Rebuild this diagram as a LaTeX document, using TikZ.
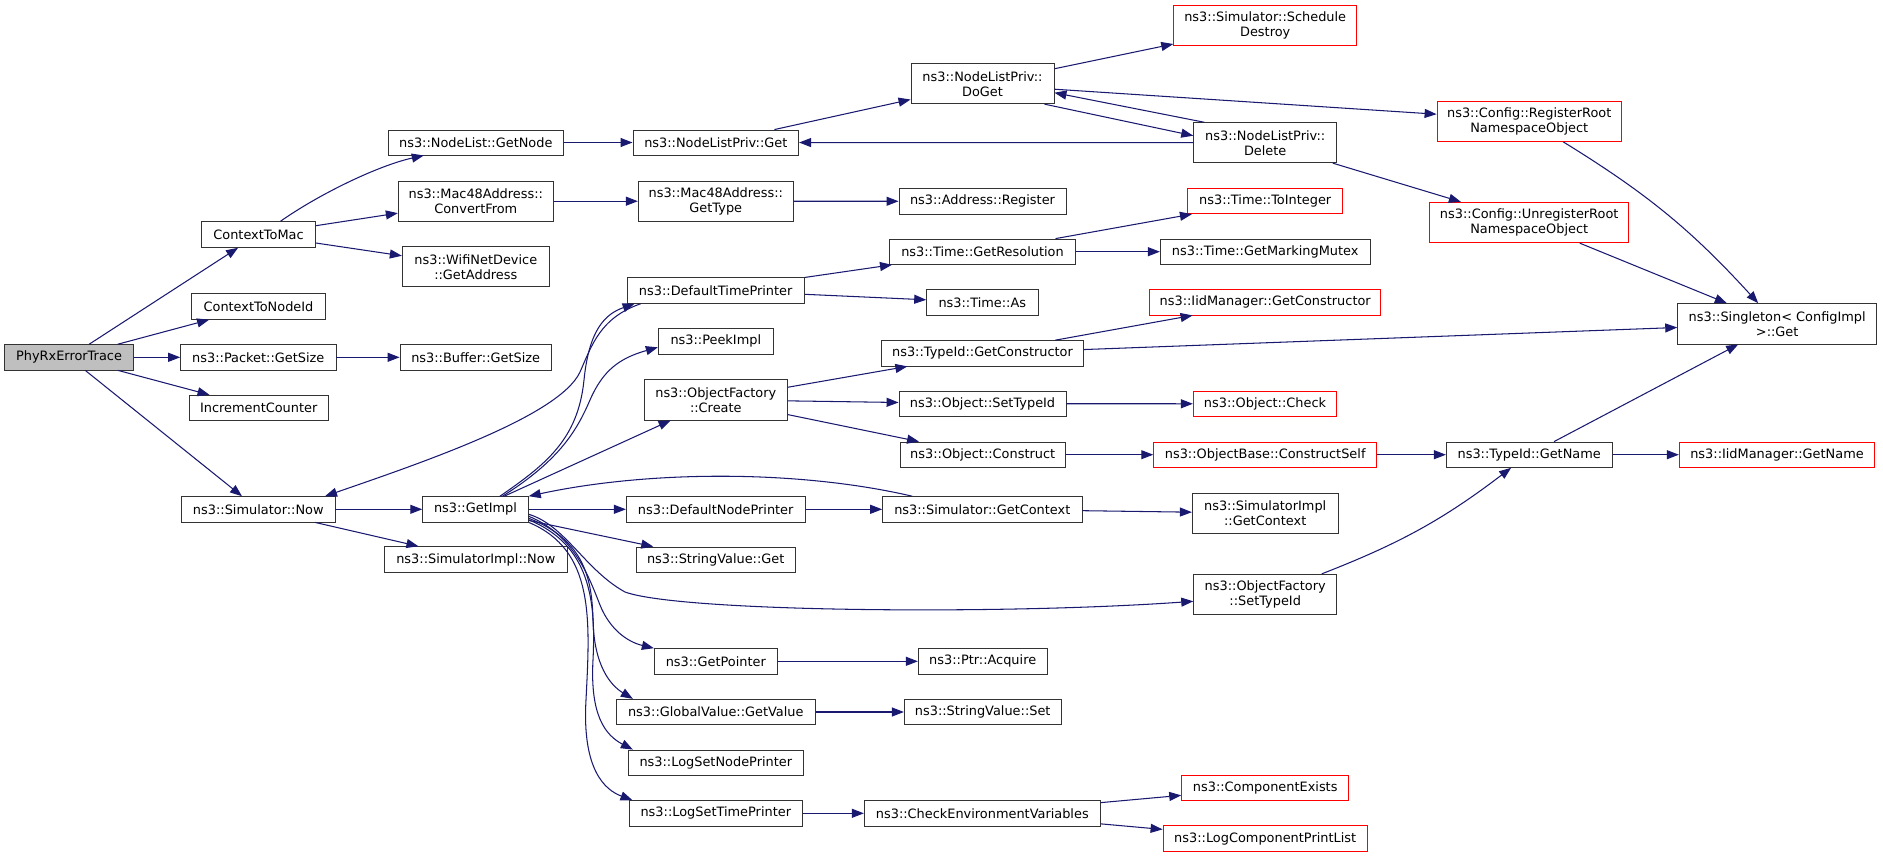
\documentclass[tikz,border=0pt]{standalone}
\usepackage{fontspec}
\setmainfont{DejaVu Sans}
\usetikzlibrary{arrows.meta,calc}
\definecolor{edgecol}{HTML}{191970}
\definecolor{phyfill}{HTML}{BFBFBF}
\definecolor{bordcol}{HTML}{333333}
\newcommand\dxfont{\fontsize{12.9}{15}\selectfont}
\tikzset{
  dbox/.style={draw=bordcol, line width=0.9pt, fill=white, inner sep=0pt, align=center, font=\dxfont},
  rbox/.style={dbox, draw=red},
  sz/.style 2 args={minimum width=#1pt, minimum height=#2pt},
  conn/.style={draw=edgecol, line width=1.05pt, -{Triangle[length=12pt,width=9pt]}},
}
\begin{document}
\begin{tikzpicture}[x=1pt,y=-1pt]
\path[use as bounding box] (0,0) rectangle (1883,857);
% column 1
\node[dbox, sz={128.6}{25.3}, fill=phyfill] (phy) at (69,357.3) {PhyRxErrorTrace};
% column 2
\node[dbox, sz={113.6}{25.6}] (ctm) at (258.5,234.5) {ContextToMac};
\node[dbox, sz={133.6}{25.6}] (ctn) at (258.5,306.5) {ContextToNodeId};
\node[dbox, sz={155.3}{25.3}] (pgs) at (258.3,357.3) {ns3::Packet::GetSize};
\node[dbox, sz={139.3}{25.4}] (inc) at (258.7,408) {IncrementCounter};
\node[dbox, sz={153.3}{25.3}] (snow) at (258.3,509.3) {ns3::Simulator::Now};
% column 3
\node[dbox, sz={175}{25}] (gnode) at (475.8,142.5) {ns3::NodeList::GetNode};
\node[dbox, sz={155}{39.7}] (cf) at (475.8,201.2) {ns3::Mac48Address::\\ConvertFrom};
\node[dbox, sz={147}{40}] (wifi) at (475.8,266.7) {ns3::WifiNetDevice\\::GetAddress};
\node[dbox, sz={151.3}{25.3}] (bgs) at (475.7,357.3) {ns3::Buffer::GetSize};
\node[dbox, sz={105.6}{25.3}] (gimpl) at (475.5,509.3) {ns3::GetImpl};
\node[dbox, sz={183}{25.6}] (simpnow) at (475.8,559.5) {ns3::SimulatorImpl::Now};
% column 4
\node[dbox, sz={165.7}{25}] (nlpget) at (715.8,142.5) {ns3::NodeListPriv::Get};
\node[dbox, sz={155}{39.7}] (gtype) at (715.8,201.2) {ns3::Mac48Address::\\GetType};
\node[dbox, sz={177.3}{26}] (dtp) at (715.7,290.3) {ns3::DefaultTimePrinter};
\node[dbox, sz={115}{25.3}] (peek) at (715.8,341.3) {ns3::PeekImpl};
\node[dbox, sz={143}{40.3}] (ofc) at (715.8,399.8) {ns3::ObjectFactory\\::Create};
\node[dbox, sz={178.7}{25.3}] (dnp) at (715.7,509.3) {ns3::DefaultNodePrinter};
\node[dbox, sz={158.7}{25.3}] (svget) at (715.7,559.7) {ns3::StringValue::Get};
\node[dbox, sz={123}{25.3}] (gptr) at (715.8,661.3) {ns3::GetPointer};
\node[dbox, sz={199}{25.4}] (gval) at (715.8,712) {ns3::GlobalValue::GetValue};
\node[dbox, sz={175}{25.3}] (lsnp) at (715.8,762.7) {ns3::LogSetNodePrinter};
\node[dbox, sz={173.7}{25.3}] (lstp) at (715.8,813.3) {ns3::LogSetTimePrinter};
% column 5
\node[dbox, sz={143}{40}] (doget) at (982.5,83.7) {ns3::NodeListPriv::\\DoGet};
\node[dbox, sz={167}{25.3}] (areg) at (982.5,201.3) {ns3::Address::Register};
\node[dbox, sz={185.6}{25.3}] (gres) at (982.5,251.7) {ns3::Time::GetResolution};
\node[dbox, sz={111.3}{25.3}] (tas) at (982.3,302.3) {ns3::Time::As};
\node[dbox, sz={201.6}{25.3}] (tgc) at (982.5,353.3) {ns3::TypeId::GetConstructor};
\node[dbox, sz={167}{25.3}] (ost) at (982.5,403.7) {ns3::Object::SetTypeId};
\node[dbox, sz={165.3}{25.3}] (oc) at (982.7,454.7) {ns3::Object::Construct};
\node[dbox, sz={199.3}{25.3}] (sgc) at (982.3,509.3) {ns3::Simulator::GetContext};
\node[dbox, sz={128.7}{25.3}] (pacq) at (982.7,661.3) {ns3::Ptr::Acquire};
\node[dbox, sz={156.7}{25.4}] (svset) at (982.7,712) {ns3::StringValue::Set};
\node[dbox, sz={236}{25.3}] (cev) at (982.3,813.3) {ns3::CheckEnvironmentVariables};
% column 6
\node[rbox, sz={183}{40}] (sd) at (1265.2,25) {ns3::Simulator::Schedule\\Destroy};
\node[dbox, sz={143}{40}] (del) at (1265.2,142.7) {ns3::NodeListPriv::\\Delete};
\node[rbox, sz={155}{25.4}] (toint) at (1265.2,201) {ns3::Time::ToInteger};
\node[dbox, sz={209.7}{25.3}] (gmm) at (1265.2,251.7) {ns3::Time::GetMarkingMutex};
\node[rbox, sz={231}{25.3}] (iidgc) at (1265.2,302.3) {ns3::IidManager::GetConstructor};
\node[rbox, sz={143.4}{25.7}] (ochk) at (1265,403.8) {ns3::Object::Check};
\node[rbox, sz={223}{25.3}] (ocs) at (1265.2,454.7) {ns3::ObjectBase::ConstructSelf};
\node[dbox, sz={145.7}{40.3}] (sigc) at (1265.2,513.2) {ns3::SimulatorImpl\\::GetContext};
\node[dbox, sz={143}{40}] (ofst) at (1265.2,594.3) {ns3::ObjectFactory\\::SetTypeId};
\node[rbox, sz={167}{25}] (cex) at (1265.2,787.8) {ns3::ComponentExists};
\node[rbox, sz={204.3}{25.6}] (lcpl) at (1265.2,838.5) {ns3::LogComponentPrintList};
% column 7
\node[rbox, sz={184.3}{40.3}] (reg) at (1529.2,121.2) {ns3::Config::RegisterRoot\\NamespaceObject};
\node[rbox, sz={199}{40.4}] (unreg) at (1529.2,222.5) {ns3::Config::UnregisterRoot\\NamespaceObject};
\node[dbox, sz={165.7}{25.3}] (tgn) at (1529.2,454.7) {ns3::TypeId::GetName};
% column 8
\node[dbox, sz={199}{40.3}] (sing) at (1777.2,323.8) {ns3::Singleton< ConfigImpl\\>::Get};
\node[rbox, sz={195.4}{25.3}] (iidgn) at (1777,454.7) {ns3::IidManager::GetName};

% edges from PhyRxErrorTrace
\draw[conn] (phy) -- (ctm);
\draw[conn] (phy) -- (ctn);
\draw[conn] (phy) -- (pgs);
\draw[conn] (phy) -- (inc);
\draw[conn] (phy) -- (snow);
% ContextToMac
\draw[conn] ($(ctm.north)+(22,0)$) .. controls +(40,-28) and +(-45,10) .. ($(gnode.south)+(-52,0)$);
\draw[conn] (ctm) -- (cf);
\draw[conn] (ctm) -- (wifi);
\draw[conn] (pgs) -- (bgs);
\draw[conn] (gnode) -- (nlpget);
\draw[conn] (nlpget) -- (doget);
\draw[conn] (cf) -- (gtype);
\draw[conn] (gtype) -- (areg);
% DoGet / Delete
\draw[conn] (doget) -- (sd);
\draw[conn] ($(doget.south)+(62,0)$) -- ($(del.west)+(0,-7)$);
\draw[conn] ($(del.north)+(-61,0)$) -- ($(doget.east)+(0,9)$);
\draw[conn] ($(doget.east)+(0,5.5)$) -- ($(reg.west)+(0,-7)$);
\draw[conn] (del) -- (nlpget);
\draw[conn] (del) -- (unreg);
\draw[conn] (reg) to[bend left=8] (sing);
\draw[conn] (unreg) -- (sing);
\draw[conn] (tgc) -- (sing);
\draw[conn] (tgn) -- (sing);
% time printer
\draw[conn] (dtp) -- (gres);
\draw[conn] (dtp) -- (tas);
\draw[conn] (gres) -- (toint);
\draw[conn] (gres) -- (gmm);
\draw[conn] (tgc) -- (iidgc);
% object factory
\draw[conn] (ofc) -- (tgc);
\draw[conn] (ofc) -- (ost);
\draw[conn] (ofc) -- (oc);
\draw[conn] (ost) -- (ochk);
\draw[conn] (oc) -- (ocs);
\draw[conn] (ocs) -- (tgn);
\draw[conn] (tgn) -- (iidgn);
\draw[conn] (ofst) to[bend right=8] (tgn);
% simulator now / getimpl
\draw[conn] (snow) -- (gimpl);
\draw[conn] (snow) -- (simpnow);
\draw[conn] ($(dtp.south west)+(14,0)$) .. controls (600,318) and (592,345) .. (580,372) .. controls (560,415) and (430,460) .. ($(snow.north)+(66.7,0)$);
\draw[conn] ($(gimpl.north)+(24.5,0)$) .. controls (545,465) and (578,440) .. (584,380) .. controls (589,330) and (605,314) .. ($(dtp.south west)+(8,0)$);
\draw[conn] ($(gimpl.north)+(27,0)$) .. controls (560,460) and (577,430) .. (590,400) .. controls (603,370) and (620,358) .. ($(peek.west)+(0,6)$);
\draw[conn] (gimpl) -- (ofc);
\draw[conn] (gimpl) -- (dnp);
\draw[conn] (gimpl) -- (svget);
\draw[conn] (dnp) -- (sgc);
\draw[conn] ($(sgc.north west)+(30,0)$) .. controls (800,470) and (650,470) .. (gimpl.north east);
\draw[conn] (sgc) -- (sigc);
\draw[conn] ($(gimpl.east)+(0,5)$) .. controls (565,525) and (585,570) .. (625,592) .. controls (680,612) and (1000,615) .. ($(ofst.west)+(0,7)$);
\draw[conn] ($(gimpl.east)+(0,7)$) .. controls (575,535) and (590,580) .. (600,605) .. controls (610,630) and (628,642) .. (gptr.north west);
\draw[conn] ($(gimpl.east)+(0,9)$) .. controls (585,540) and (592,580) .. (593,620) .. controls (594,665) and (610,685) .. ($(gval.north west)+(17,0)$);
\draw[conn] ($(gimpl.east)+(0,10.5)$) .. controls (590,545) and (596,600) .. (593,660) .. controls (590,715) and (605,735) .. ($(lsnp.north west)+(5,0)$);
\draw[conn] (gimpl.south east) .. controls (595,550) and (590,620) .. (586,700) .. controls (582,770) and (605,790) .. ($(lstp.north west)+(4,0)$);
\draw[conn] (gptr) -- (pacq);
\draw[conn] (gval) -- (svset);
\draw[conn] (lstp) -- (cev);
\draw[conn] (cev) -- (cex);
\draw[conn] (cev) -- (lcpl);
\end{tikzpicture}
\end{document}
